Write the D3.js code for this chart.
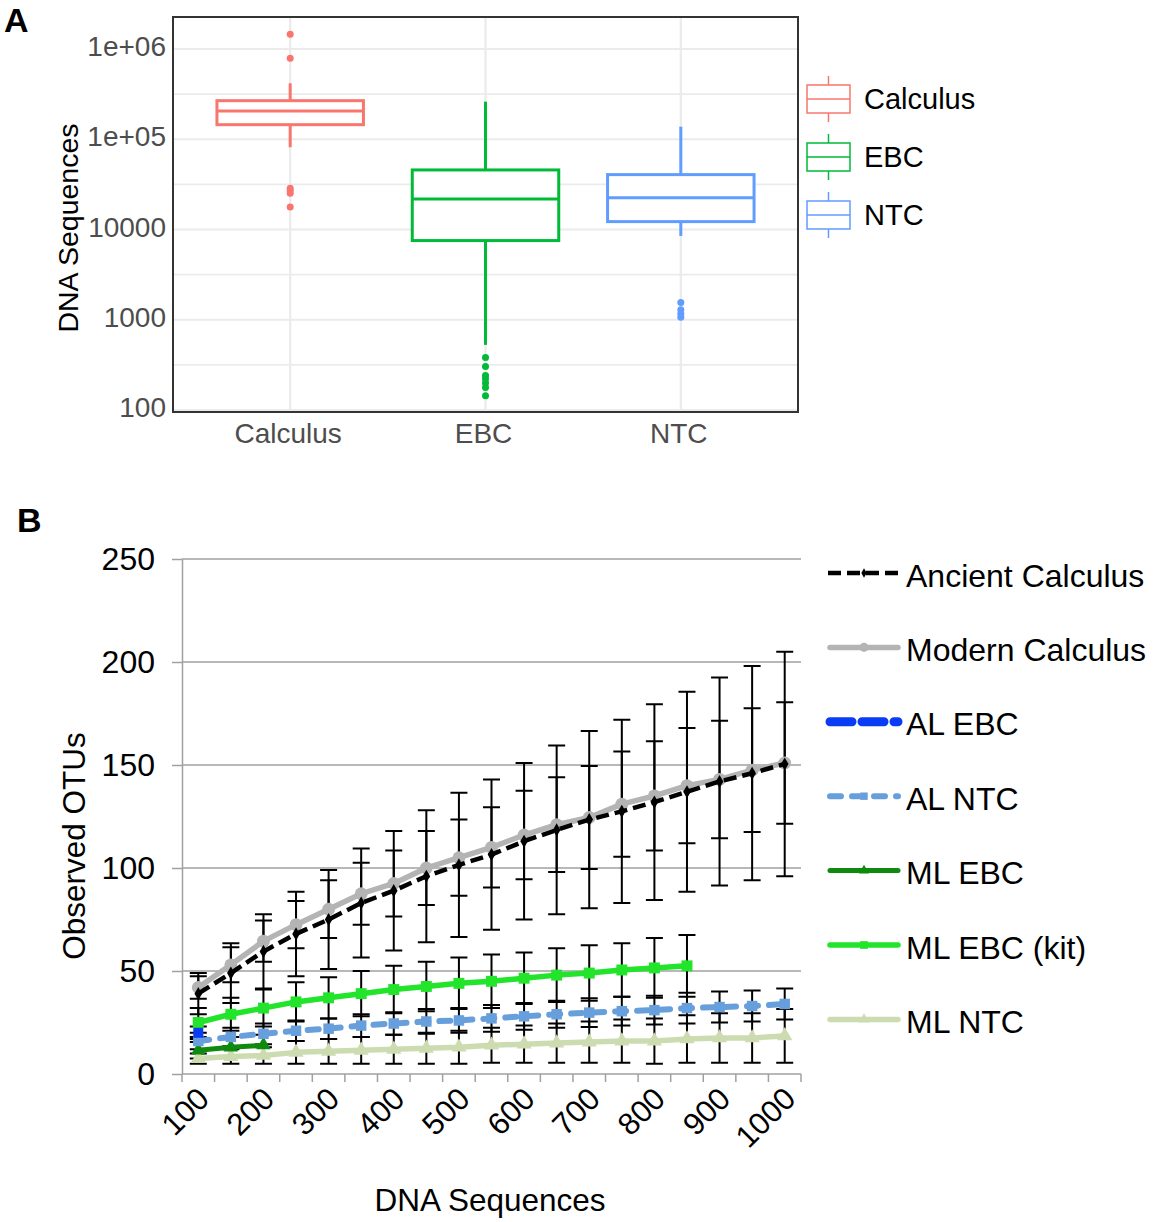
<!DOCTYPE html>
<html>
<head>
<meta charset="UTF-8">
<script src="https://cdn.jsdelivr.net/npm/d3@7"></script>
<style>
  body { margin: 0; background: #fff; }
  svg { font-family: "Liberation Sans", Arial, sans-serif; }
  .gridA { stroke: #ebebeb; }
  .gridB { stroke: #a0a0a0; stroke-width: 1.5; }
  .err { stroke: #000; stroke-width: 2; fill: none; }
</style>
</head>
<body>
<svg id="fig" width="1153" height="1222"></svg>
<script>
// ---------- panel A: read counts per sample type (boxplot summary)
var groups = ["Calculus", "EBC", "NTC"];
var groupColors = ["#F8766D", "#00BA38", "#619CFF"];
var whiskerLow = [81500, 527, 8490];
var boxQ1 = [145000, 7540, 12230];
var boxMedian = [205700, 21800, 22550];
var boxQ3 = [267600, 45700, 40560];
var whiskerHigh = [417000, 260800, 137900];
var outliersCalculus = [1454000, 789000, 28600, 27000, 25200, 17700];
var outliersEBC = [381, 303, 241, 222, 199, 177, 144];
var outliersNTC = [1550, 1288, 1162, 1069];
var logTicks = [100, 1000, 10000, 100000, 1000000];
var logTickLabels = ["100", "1000", "10000", "1e+05", "1e+06"];

// ---------- panel B: rarefaction curves
var depths = [100, 150, 200, 250, 300, 350, 400, 450, 500, 550, 600, 650, 700, 750, 800, 850, 900, 950, 1000];
var depthLabels = [100, 200, 300, 400, 500, 600, 700, 800, 900, 1000];
var otuTicks = [0, 50, 100, 150, 200, 250];

var ancientCalc = [39, 49, 59.5, 68, 75, 83, 89, 96, 101.5, 106.5, 113, 118.5, 123.5, 127.5, 132, 137, 142, 146, 150.5];
var ancientCalcSd = [10, 14.5, 18, 20.5, 24, 26.5, 29, 32, 35, 36.5, 38, 41, 43, 44.5, 47.5, 48.5, 50.5, 52, 54.5];
var modernCalc = [42, 53, 64.5, 72.5, 80, 87.5, 92.5, 100, 105, 110, 116, 121, 124.5, 131, 135, 140, 143, 147.5, 151];
var modernCalcSd = [5.5, 8.5, 10, 11.5, 14, 15, 16, 18, 18.5, 19.5, 21.5, 23, 25, 25.5, 26.5, 28, 28.5, 30, 29.5];
var alEbc = [20];
var alEbcSd = [3];
var alNtc = [16, 18, 19.5, 21, 22, 23.5, 24.5, 25.5, 26, 27, 28, 29, 29.8, 30.5, 31, 32, 32.5, 33, 34];
var alNtcSd = [4, 4.5, 5, 5, 5, 5.5, 5.5, 6, 6, 6.5, 6.5, 6.5, 7, 7, 7, 7.5, 7.5, 7.5, 7.5];
var mlEbc = [11.5, 13, 14];
var mlEbcSd = [4, 5, 5];
var mlEbcKit = [25, 29, 32, 35, 37, 39, 41, 42.5, 44, 45, 46.5, 48, 49, 50.5, 51.5, 52.5];
var mlEbcKitSd = [7, 8, 9, 9.5, 10, 11, 11.5, 12, 12.5, 13, 12.5, 13, 13.5, 13, 14.5, 15];
var mlNtc = [7.5, 8.5, 9, 10.5, 11, 11.5, 12, 12.5, 13, 14, 14.5, 15, 15.5, 16, 16, 17, 17.5, 17.5, 18.5];
var mlNtcSd = [2.5, 3.5, 4, 5.5, 6, 6.5, 7, 7.5, 8, 8.5, 9, 9.5, 10, 10.5, 11, 11.5, 12, 12, 13];

var seriesNames = ["Ancient Calculus", "Modern Calculus", "AL EBC", "AL NTC", "ML EBC", "ML EBC (kit)", "ML NTC"];

var svg = d3.select("#fig");

// panel letters
svg.append("text").attr("x", 4).attr("y", 32).attr("font-size", 34).attr("font-weight", "bold").text("A");
svg.append("text").attr("x", 17).attr("y", 532).attr("font-size", 34).attr("font-weight", "bold").text("B");

// ================= Panel A =================
var pA = {left: 173, right: 798, top: 17, bottom: 412};
var xA = d3.scalePoint().domain(groups).range([pA.left, pA.right]).padding(0.6);
var yA = d3.scaleLog().domain([100, 1e6]).range([410, 49]);
var boxW = xA.step() * 0.75;

var gA = svg.append("g");

// minor grid sits half way between decades (ggplot style)
var minorTicks = logTicks.slice(0, -1).map(function(t) { return t * Math.sqrt(10); });
gA.selectAll("line.minor").data(minorTicks).enter().append("line")
  .attr("class", "gridA").attr("stroke-width", 1.8)
  .attr("x1", pA.left).attr("x2", pA.right)
  .attr("y1", function(d) { return yA(d); }).attr("y2", function(d) { return yA(d); });
gA.selectAll("line.major").data(logTicks).enter().append("line")
  .attr("class", "gridA").attr("stroke-width", 2.2)
  .attr("x1", pA.left).attr("x2", pA.right)
  .attr("y1", function(d) { return yA(d); }).attr("y2", function(d) { return yA(d); });
gA.selectAll("line.vgrid").data(groups).enter().append("line")
  .attr("class", "gridA").attr("stroke-width", 2.2)
  .attr("x1", function(d) { return xA(d); }).attr("x2", function(d) { return xA(d); })
  .attr("y1", pA.top).attr("y2", pA.bottom);

// boxes
var boxData = groups.map(function(g, i) {
  return {name: g, color: groupColors[i], lo: whiskerLow[i], q1: boxQ1[i], med: boxMedian[i], q3: boxQ3[i], hi: whiskerHigh[i]};
});
var bx = gA.selectAll("g.box").data(boxData).enter().append("g")
  .attr("stroke", function(d) { return d.color; }).attr("stroke-width", 3).attr("fill", "#fff");
bx.append("line")
  .attr("x1", function(d) { return xA(d.name); }).attr("x2", function(d) { return xA(d.name); })
  .attr("y1", function(d) { return yA(d.hi); }).attr("y2", function(d) { return yA(d.q3); });
bx.append("line")
  .attr("x1", function(d) { return xA(d.name); }).attr("x2", function(d) { return xA(d.name); })
  .attr("y1", function(d) { return yA(d.q1); }).attr("y2", function(d) { return yA(d.lo); });
bx.append("rect")
  .attr("x", function(d) { return xA(d.name) - boxW / 2; }).attr("width", boxW)
  .attr("y", function(d) { return yA(d.q3); })
  .attr("height", function(d) { return yA(d.q1) - yA(d.q3); });
bx.append("line")
  .attr("x1", function(d) { return xA(d.name) - boxW / 2; }).attr("x2", function(d) { return xA(d.name) + boxW / 2; })
  .attr("y1", function(d) { return yA(d.med); }).attr("y2", function(d) { return yA(d.med); });

var outliers = [outliersCalculus, outliersEBC, outliersNTC];
outliers.forEach(function(arr, i) {
  gA.selectAll(null).data(arr).enter().append("circle")
    .attr("cx", xA(groups[i])).attr("cy", function(d) { return yA(d); })
    .attr("r", 3.5).attr("fill", groupColors[i]);
});

// panel border
gA.append("rect").attr("x", pA.left).attr("y", pA.top)
  .attr("width", pA.right - pA.left).attr("height", pA.bottom - pA.top)
  .attr("fill", "none").attr("stroke", "#333").attr("stroke-width", 2);

// axis labels A
gA.selectAll("text.ytA").data(logTicks).enter().append("text")
  .attr("x", 166).attr("y", function(d) { return yA(d); }).attr("dy", "0.25em")
  .attr("text-anchor", "end").attr("font-size", 28).attr("fill", "#4d4d4d")
  .text(function(d, i) { return logTickLabels[i]; });
gA.selectAll("text.xtA").data(groups).enter().append("text")
  .attr("x", function(d) { return xA(d) - 2; }).attr("y", 443)
  .attr("text-anchor", "middle").attr("font-size", 28).attr("fill", "#4d4d4d")
  .text(function(d) { return d; });
gA.append("text").attr("transform", "translate(78,228) rotate(-90)")
  .attr("text-anchor", "middle").attr("font-size", 28.5).text("DNA Sequences");

// legend A
var legA = gA.selectAll("g.legA").data(boxData).enter().append("g")
  .attr("transform", function(d, i) { return "translate(807," + (99 + i * 58) + ")"; });
legA.append("line").attr("x1", 21.5).attr("x2", 21.5).attr("y1", -23).attr("y2", 23)
  .attr("stroke", function(d) { return d.color; }).attr("stroke-width", 1.5);
legA.append("rect").attr("x", 0).attr("y", -14).attr("width", 43).attr("height", 28)
  .attr("fill", "#fff").attr("stroke", function(d) { return d.color; }).attr("stroke-width", 1.5);
legA.append("line").attr("x1", 0).attr("x2", 43).attr("y1", 0).attr("y2", 0)
  .attr("stroke", function(d) { return d.color; }).attr("stroke-width", 1.5);
legA.append("text").attr("x", 57).attr("y", 0).attr("dy", "0.35em")
  .attr("font-size", 29).text(function(d) { return d.name; });

// ================= Panel B =================
var pB = {left: 182, right: 801, top: 559, bottom: 1074};
var xB = d3.scaleBand().domain(depths).range([pB.left, pB.right]);
var yB = d3.scaleLinear().domain([0, 250]).range([pB.bottom, pB.top]);
function cx(d) { return xB(d) + xB.bandwidth() / 2; }

var gB = svg.append("g");

gB.selectAll("line.gb").data(otuTicks.slice(1)).enter().append("line")
  .attr("class", "gridB")
  .attr("x1", pB.left).attr("x2", pB.right)
  .attr("y1", function(d) { return yB(d); }).attr("y2", function(d) { return yB(d); });

var yAxisB = d3.axisLeft(yB).tickValues(otuTicks).tickSize(10).tickSizeOuter(0).tickPadding(17);
var yAx = gB.append("g").attr("transform", "translate(" + pB.left + ",0)").call(yAxisB);
yAx.selectAll("path, line").attr("stroke", "#a0a0a0").attr("stroke-width", 1.5);
yAx.selectAll("text").attr("font-size", 32).attr("fill", "#000")
  .attr("font-family", "Liberation Sans, Arial, sans-serif");

// x axis (category axis with ticks between categories)
var xEdges = depths.map(function(d) { return xB(d); }).concat([pB.right]);
gB.append("line").attr("x1", pB.left).attr("x2", pB.right).attr("y1", pB.bottom).attr("y2", pB.bottom)
  .attr("stroke", "#a0a0a0").attr("stroke-width", 1.5);
gB.selectAll("line.xt").data(xEdges).enter().append("line")
  .attr("x1", function(d) { return d; }).attr("x2", function(d) { return d; })
  .attr("y1", pB.bottom).attr("y2", pB.bottom + 8)
  .attr("stroke", "#a0a0a0").attr("stroke-width", 1.5);
gB.selectAll("text.xl").data(depthLabels).enter().append("text")
  .attr("transform", function(d) { return "translate(" + (cx(d) + 5) + "," + 1093 + ") rotate(-45)"; })
  .attr("text-anchor", "end").attr("dy", "0.35em").attr("font-size", 31)
  .text(function(d) { return d; });

gB.append("text").attr("x", 490).attr("y", 1211).attr("text-anchor", "middle")
  .attr("font-size", 31.5).text("DNA Sequences");
gB.append("text").attr("transform", "translate(85,846) rotate(-90)")
  .attr("text-anchor", "middle").attr("font-size", 31.5).text("Observed OTUs");

// series definitions
var series = [
  {name: seriesNames[0], vals: ancientCalc, sd: ancientCalcSd, color: "#000", width: 4.5, dash: "13,6", cap: "butt", sym: d3.symbolDiamond, size: 50},
  {name: seriesNames[1], vals: modernCalc, sd: modernCalcSd, color: "#b4b4b4", width: 5.5, dash: null, cap: "round", sym: d3.symbolCircle, size: 130},
  {name: seriesNames[2], vals: alEbc, sd: alEbcSd, color: "#0a3cf5", width: 9, dash: "22,10", cap: "round", sym: d3.symbolSquare, size: 100},
  {name: seriesNames[3], vals: alNtc, sd: alNtcSd, color: "#679fdc", width: 6, dash: "11,11", cap: "round", sym: d3.symbolSquare, size: 110},
  {name: seriesNames[4], vals: mlEbc, sd: mlEbcSd, color: "#0e8a0e", width: 5, dash: null, cap: "round", sym: d3.symbolTriangle, size: 90},
  {name: seriesNames[5], vals: mlEbcKit, sd: mlEbcKitSd, color: "#22e42a", width: 5.5, dash: null, cap: "round", sym: d3.symbolSquare, size: 120},
  {name: seriesNames[6], vals: mlNtc, sd: mlNtcSd, color: "#cddcb0", width: 5.5, dash: null, cap: "round", sym: d3.symbolTriangle, size: 100}
];

// error bars under the lines
var capW = 8.5;
series.forEach(function(s) {
  var pts = s.vals.map(function(v, i) { return {x: cx(depths[i]), v: v, sd: s.sd[i]}; });
  var eg = gB.append("g").attr("class", "err");
  eg.selectAll(null).data(pts).enter().append("path")
    .attr("d", function(p) {
      var y0 = yB(p.v - p.sd), y1 = yB(p.v + p.sd);
      return "M" + p.x + "," + y0 + "V" + y1 +
        "M" + (p.x - capW) + "," + y1 + "H" + (p.x + capW) +
        "M" + (p.x - capW) + "," + y0 + "H" + (p.x + capW);
    });
});

var line = d3.line().x(function(d, i) { return cx(depths[i]); }).y(function(d) { return yB(d); });

series.slice().reverse().forEach(function(s) {
  var sg = gB.append("g");
  sg.append("path").datum(s.vals).attr("d", line)
    .attr("fill", "none").attr("stroke", s.color).attr("stroke-width", s.width)
    .attr("stroke-linecap", s.cap).attr("stroke-linejoin", "round")
    .attr("stroke-dasharray", s.dash);
  sg.selectAll(null).data(s.vals).enter().append("path")
    .attr("transform", function(d, i) { return "translate(" + cx(depths[i]) + "," + yB(d) + ")"; })
    .attr("d", d3.symbol().type(s.sym).size(s.size))
    .attr("fill", s.color);
});

// legend B
var legB = gB.selectAll("g.legB").data(series).enter().append("g")
  .attr("transform", function(d, i) { return "translate(0," + (573 + i * 74.4) + ")"; });
legB.append("line").attr("x1", function(d) { return d.cap === "round" ? 830 : 828; })
  .attr("x2", function(d) { return d.cap === "round" ? 898 : 900; })
  .attr("y1", 0).attr("y2", 0)
  .attr("stroke", function(d) { return d.color; })
  .attr("stroke-width", function(d) { return d.width; })
  .attr("stroke-linecap", function(d) { return d.cap; })
  .attr("stroke-dasharray", function(d) { return d.dash; });
legB.append("path").attr("transform", "translate(864,0)")
  .attr("d", function(d) { return d3.symbol().type(d.sym).size(d.size * 0.5)(); })
  .attr("fill", function(d) { return d.color; });
legB.append("text").attr("x", 906).attr("y", 13.5).attr("font-size", 32)
  .text(function(d) { return d.name; });
</script>
</body>
</html>
